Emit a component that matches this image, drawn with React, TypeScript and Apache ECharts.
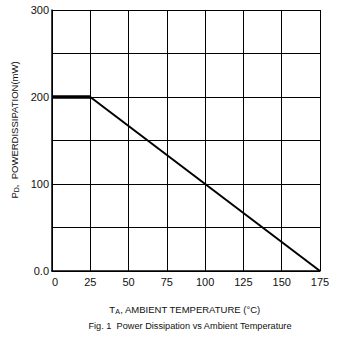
import React, { useEffect, useRef } from "react";
import * as echarts from "echarts";

const xTicks = [0, 25, 50, 75, 100, 125, 150, 175];
const flatSegment: [number, number][] = [[0, 200], [25, 200]];
const slopeSegment: [number, number][] = [[25, 200], [175, 0]];
const yLabels: Record<number, string> = { 0: "0.0", 100: "100", 200: "200", 300: "300" };

export default function App() {
  const ref = useRef<HTMLDivElement>(null);
  useEffect(() => {
    if (!ref.current) return;
    const chart = echarts.init(ref.current, undefined, { renderer: "svg" });
    const font = "Liberation Sans, Arial, sans-serif";
    chart.setOption({
      animation: false,
      backgroundColor: "#ffffff",
      grid: { left: 52, right: 25, top: 10, bottom: 72, containLabel: false },
      xAxis: {
        type: "value",
        min: xTicks[0],
        max: xTicks[xTicks.length - 1],
        interval: 25,
        axisLine: { show: true, lineStyle: { color: "#000", width: 1.5 } },
        axisTick: { show: false },
        axisLabel: { color: "#111", fontSize: 11, fontFamily: font, margin: 5, alignMinLabel: "left" },
        splitLine: { show: true, lineStyle: { color: "#000", width: 1 } },
      },
      yAxis: {
        type: "value",
        min: 0,
        max: 300,
        interval: 50,
        axisLine: { show: true, lineStyle: { color: "#000", width: 1.5 } },
        axisTick: { show: false },
        axisLabel: {
          color: "#111",
          fontSize: 11,
          fontFamily: font,
          margin: 3,
          formatter: (v: number) => yLabels[v] ?? "",
        },
        splitLine: { show: true, lineStyle: { color: "#000", width: 1 } },
      },
      series: [
        {
          type: "line",
          data: flatSegment,
          symbol: "none",
          lineStyle: { color: "#000", width: 3.5 },
        },
        {
          type: "line",
          data: slopeSegment,
          symbol: "none",
          lineStyle: { color: "#000", width: 2 },
        },
      ],
      graphic: [
        {
          type: "text",
          x: 14,
          y: 130,
          rotation: Math.PI / 2,
          style: {
            text: "{m|P}{s|D}{m|,  POWERDISSIPATION(mW)}",
            align: "center",
            verticalAlign: "middle",
            fill: "#111",
            rich: {
              m: { fontSize: 9.5, fontFamily: font, fill: "#111" },
              s: { fontSize: 7, fontFamily: font, fill: "#111", verticalAlign: "bottom", padding: [5, 0, 0, 0] },
            },
          },
        },
        {
          type: "text",
          x: 185,
          y: 309,
          style: {
            text: "{m|T}{s|A}{m|, AMBIENT TEMPERATURE (°C)}",
            align: "center",
            verticalAlign: "middle",
            fill: "#111",
            rich: {
              m: { fontSize: 9.5, fontFamily: font, fill: "#111" },
              s: { fontSize: 7, fontFamily: font, fill: "#111", verticalAlign: "bottom", padding: [5, 0, 0, 0] },
            },
          },
        },
        {
          type: "text",
          x: 190,
          y: 326,
          style: {
            text: "Fig. 1  Power Dissipation vs Ambient Temperature",
            align: "center",
            verticalAlign: "middle",
            fill: "#111",
            fontSize: 9.2,
            fontFamily: font,
          },
        },
      ],
    });
    return () => chart.dispose();
  }, []);
  return (
    <div
      ref={ref}
      style={{ position: "absolute", left: 0, top: 0, width: 345, height: 343 }}
    />
  );
}
